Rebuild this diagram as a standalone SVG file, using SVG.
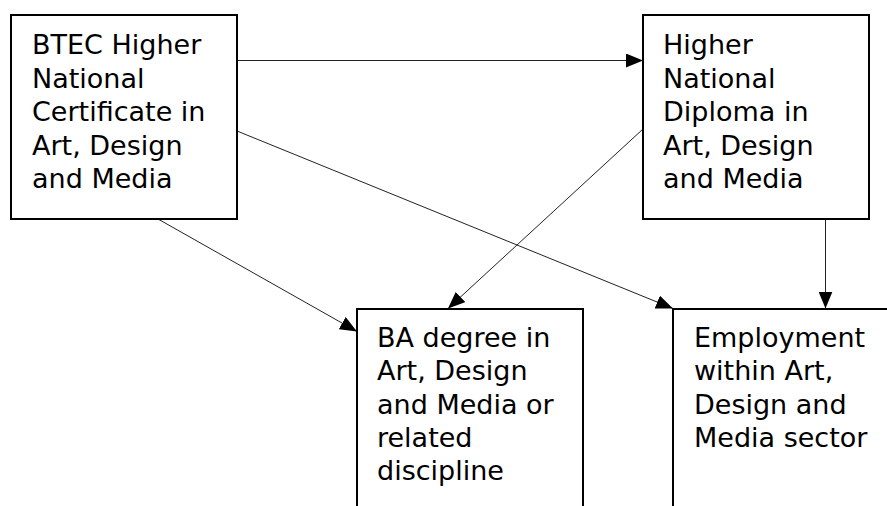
<svg xmlns="http://www.w3.org/2000/svg" width="887" height="506" viewBox="0 0 887 506">
<style>
.box{fill:#fff;stroke:#000;stroke-width:2}
.t{font-family:"DejaVu Sans",Verdana,sans-serif;font-size:27px;fill:#000}
.c{stroke:#222;stroke-width:1;fill:none}
</style>
<defs>
<marker id="ah" markerUnits="userSpaceOnUse" markerWidth="17" markerHeight="14" refX="17" refY="7" orient="auto">
<path d="M0,0 L17,7 L0,14 Z" fill="#000"/>
</marker>
</defs>
<rect width="887" height="506" fill="#fff"/>
<g id="connectors">
<line class="c" x1="237" y1="60.5" x2="643" y2="60.5" marker-end="url(#ah)"/>
<line class="c" x1="237" y1="131" x2="673" y2="308.5" marker-end="url(#ah)"/>
<line class="c" x1="158" y1="219" x2="357" y2="331.5" marker-end="url(#ah)"/>
<line class="c" x1="643" y1="129" x2="448" y2="308.5" marker-end="url(#ah)"/>
<line class="c" x1="825.5" y1="219" x2="825.5" y2="308.5" marker-end="url(#ah)"/>
</g>
<g id="btec">
<rect class="box" x="11" y="15" width="226" height="204"/>
<text class="t" x="32" y="54.3">BTEC Higher</text>
<text class="t" x="32" y="87.7">National</text>
<text class="t" x="32" y="121.1">Certificate in</text>
<text class="t" x="32" y="154.5">Art, Design</text>
<text class="t" x="32" y="187.9">and Media</text>
</g>
<g id="hnd">
<rect class="box" x="643" y="15" width="226" height="204"/>
<text class="t" x="663" y="54.3">Higher</text>
<text class="t" x="663" y="87.7">National</text>
<text class="t" x="663" y="121.1">Diploma in</text>
<text class="t" x="663" y="154.5">Art, Design</text>
<text class="t" x="663" y="187.9">and Media</text>
</g>
<g id="ba">
<rect class="box" x="357" y="309" width="226" height="220"/>
<text class="t" x="377" y="346.7">BA degree in</text>
<text class="t" x="377" y="380.1">Art, Design</text>
<text class="t" x="377" y="413.5">and Media or</text>
<text class="t" x="377" y="446.9">related</text>
<text class="t" x="377" y="480.3">discipline</text>
</g>
<g id="employment">
<rect class="box" x="673" y="309" width="240" height="220"/>
<text class="t" x="694" y="346.7">Employment</text>
<text class="t" x="694" y="380.1">within Art,</text>
<text class="t" x="694" y="413.5">Design and</text>
<text class="t" x="694" y="446.9">Media sector</text>
</g>
</svg>
